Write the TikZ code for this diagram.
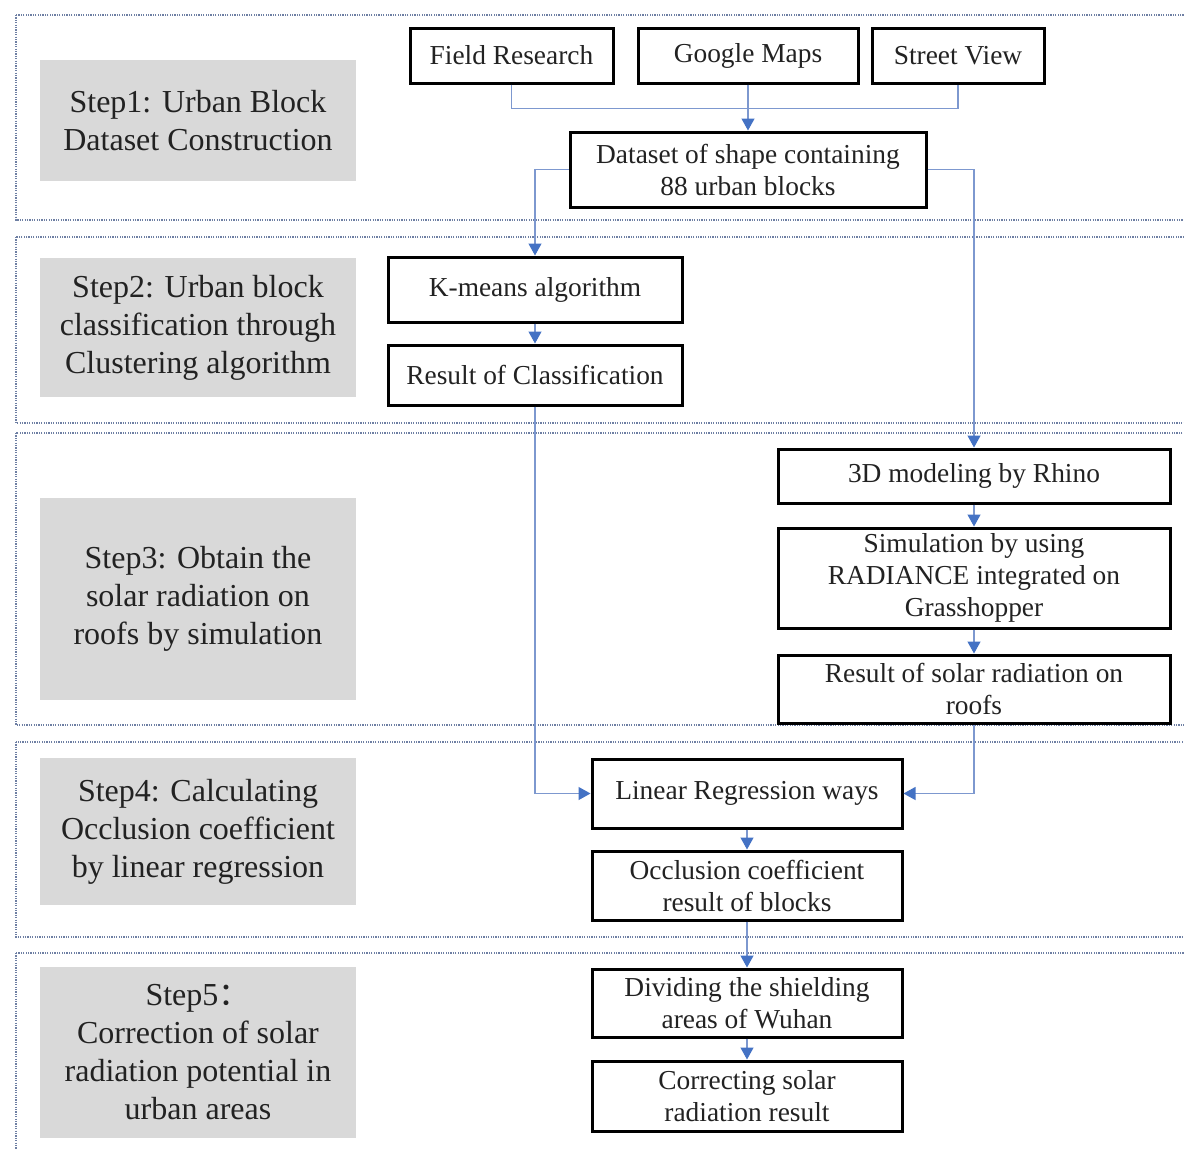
\documentclass[tikz,border=0pt]{standalone}
\usepackage{fontspec}
\setmainfont{Liberation Serif}
\newfontfamily\cjk{Noto Sans CJK SC}
\usetikzlibrary{arrows.meta}
\definecolor{framec}{HTML}{6E7FA3}
\definecolor{linec}{HTML}{7D98CF}
\definecolor{arrc}{HTML}{4472C4}
\definecolor{grayfill}{HTML}{D9D9D9}
\definecolor{txt}{HTML}{222222}
\tikzset{
  frame/.style={draw=framec, line width=0.75pt, dash pattern=on 0.6pt off 0.6pt},
  stepbox/.style={fill=grayfill, draw=none, text=txt, align=center, inner sep=0pt,
    font=\fontsize{16}{19}\selectfont},
  flowbox/.style={draw=black, fill=white, line width=1.5pt, text=txt, align=center, inner sep=0pt,
    font=\fontsize{13.7}{16}\selectfont},
  conn/.style={draw=linec, line width=0.6pt},
  arr/.style={conn, -{Triangle[length=6pt,width=6.5pt,color=arrc]}}
}
\begin{document}
\begin{tikzpicture}[x=0.5pt,y=-0.5pt]
\useasboundingbox (0,0) rectangle (1184,1148);
\fill[white] (0,0) rectangle (1184,1148);
\begin{scope}
\clip (0,0) rectangle (1184,1148);
\draw[frame] (16,15) rectangle (1200,220);
\draw[frame] (16,237) rectangle (1200,423);
\draw[frame] (16,433) rectangle (1200,725);
\draw[frame] (16,742) rectangle (1200,937);
\draw[frame] (16,953) rectangle (1200,1170);
\end{scope}

% step labels
\node[stepbox, minimum width=158pt, minimum height=60.5pt] (s1) at (198,120.5) {Step1: Urban Block\\Dataset Construction};
\node[stepbox, minimum width=158pt, minimum height=69.5pt] (s2) at (198,327.5) {Step2: Urban block\\classification through\\Clustering algorithm};
\node[stepbox, minimum width=158pt, minimum height=101pt] (s3) at (198,599) {Step3: Obtain the\\solar radiation on\\roofs by simulation};
\node[stepbox, minimum width=158pt, minimum height=73.5pt] (s4) at (198,831.5) {Step4: Calculating\\Occlusion coefficient\\by linear regression};
\node[stepbox, minimum width=158pt, minimum height=85.5pt] (s5) at (198,1052.5) {Step5{\cjk ：}\\Correction of solar\\radiation potential in\\urban areas};

% flow boxes
\node[flowbox, minimum width=101.5pt, minimum height=27.5pt] (fr) at (511.5,55.5) {Field Research};
\node[flowbox, minimum width=110pt, minimum height=27.5pt] (gm) at (748,55.5) {Google Maps};
\node[flowbox, minimum width=86pt, minimum height=27.5pt] (sv) at (958,55.5) {Street View};
\node[flowbox, minimum width=178pt, minimum height=37.5pt] (ds) at (748,169.5) {Dataset of shape containing\\88 urban blocks};
\node[flowbox, minimum width=147pt, minimum height=32.5pt] (km) at (535,289.5) {K-means algorithm};
\node[flowbox, minimum width=147pt, minimum height=30pt] (rc) at (535,375) {Result of Classification};
\node[flowbox, minimum width=196pt, minimum height=27pt] (rh) at (974,476) {3D modeling by Rhino};
\node[flowbox, minimum width=196pt, minimum height=50pt] (sim) at (974,578) {Simulation by using\\RADIANCE integrated on\\Grasshopper};
\node[flowbox, minimum width=196pt, minimum height=34pt] (rs) at (974,689) {Result of solar radiation on\\roofs};
\node[flowbox, minimum width=155pt, minimum height=34.5pt] (lr) at (747,793.5) {Linear Regression ways};
\node[flowbox, minimum width=155pt, minimum height=34.5pt] (oc) at (747,885.5) {Occlusion coefficient\\result of blocks};
\node[flowbox, minimum width=155pt, minimum height=34pt] (dv) at (747,1003) {Dividing the shielding\\areas of Wuhan};
\node[flowbox, minimum width=155pt, minimum height=35pt] (cr) at (747,1096) {Correcting solar\\radiation result};

% connectors
\draw[conn] (fr.south) -- ++(0,24) -| (sv.south);
\draw[arr] (gm.south) -- (ds.north);
\draw[arr] (ds.west) -| (km.north);
\draw[arr] (ds.east) -| (rh.north);
\draw[arr] (km.south) -- (rc.north);
\draw[arr] (rc.south) |- (lr.west);
\draw[arr] (rh.south) -- (sim.north);
\draw[arr] (sim.south) -- (rs.north);
\draw[arr] (rs.south) |- (lr.east);
\draw[arr] (lr.south) -- (oc.north);
\draw[arr] (oc.south) -- (dv.north);
\draw[arr] (dv.south) -- (cr.north);
\end{tikzpicture}
\end{document}
